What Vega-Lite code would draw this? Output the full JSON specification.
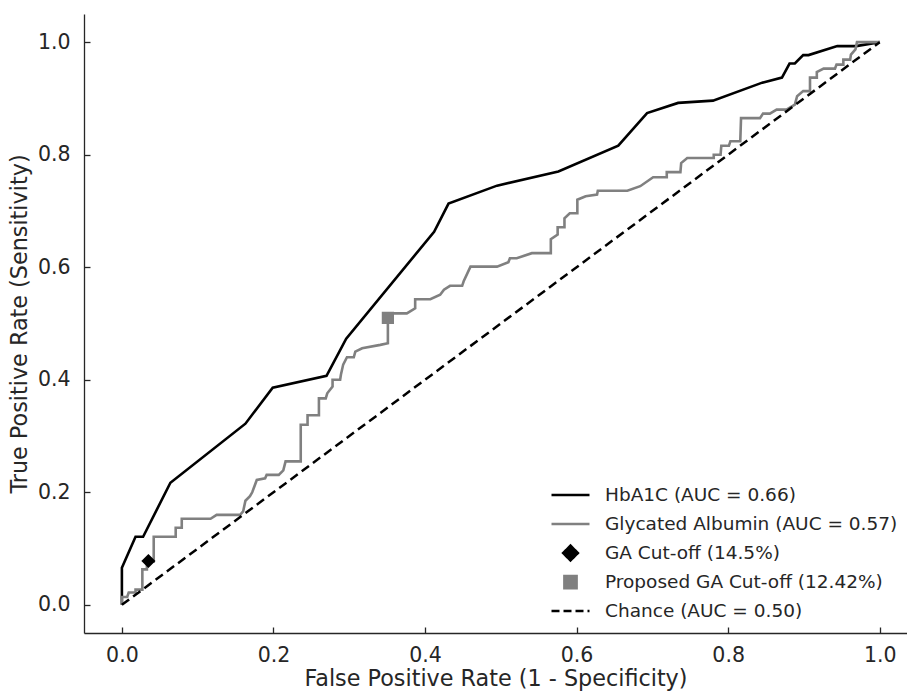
{
  "$schema": "https://vega.github.io/schema/vega-lite/v6.json",
  "width": 823,
  "height": 619,
  "autosize": {"type": "none"},
  "padding": {"left": 84, "top": 14, "right": 0, "bottom": 60},
  "background": "white",
  "config": {
    "view": {"stroke": null},
    "axis": {
      "grid": false,
      "domainColor": "#262626",
      "domainWidth": 1.3,
      "tickColor": "#262626",
      "tickWidth": 1.3,
      "tickSize": -6,
      "labelFont": "DejaVu Sans",
      "labelFontSize": 20.5,
      "labelColor": "#262626",
      "titleFont": "DejaVu Sans",
      "titleFontSize": 22.3,
      "titleFontWeight": "normal",
      "titleColor": "#262626"
    }
  },
  "data": {
    "values": [
      {"s": "HbA1C (AUC = 0.66)", "fpr": 0, "tpr": 0},
      {"s": "HbA1C (AUC = 0.66)", "fpr": 0, "tpr": 0.066},
      {"s": "HbA1C (AUC = 0.66)", "fpr": 0.018, "tpr": 0.121},
      {"s": "HbA1C (AUC = 0.66)", "fpr": 0.028, "tpr": 0.121},
      {"s": "HbA1C (AUC = 0.66)", "fpr": 0.064, "tpr": 0.217},
      {"s": "HbA1C (AUC = 0.66)", "fpr": 0.163, "tpr": 0.322},
      {"s": "HbA1C (AUC = 0.66)", "fpr": 0.199, "tpr": 0.386},
      {"s": "HbA1C (AUC = 0.66)", "fpr": 0.27, "tpr": 0.407},
      {"s": "HbA1C (AUC = 0.66)", "fpr": 0.296, "tpr": 0.473},
      {"s": "HbA1C (AUC = 0.66)", "fpr": 0.412, "tpr": 0.663},
      {"s": "HbA1C (AUC = 0.66)", "fpr": 0.431, "tpr": 0.713},
      {"s": "HbA1C (AUC = 0.66)", "fpr": 0.495, "tpr": 0.745},
      {"s": "HbA1C (AUC = 0.66)", "fpr": 0.576, "tpr": 0.77},
      {"s": "HbA1C (AUC = 0.66)", "fpr": 0.655, "tpr": 0.816},
      {"s": "HbA1C (AUC = 0.66)", "fpr": 0.693, "tpr": 0.874},
      {"s": "HbA1C (AUC = 0.66)", "fpr": 0.734, "tpr": 0.892},
      {"s": "HbA1C (AUC = 0.66)", "fpr": 0.78, "tpr": 0.896},
      {"s": "HbA1C (AUC = 0.66)", "fpr": 0.845, "tpr": 0.928},
      {"s": "HbA1C (AUC = 0.66)", "fpr": 0.871, "tpr": 0.937},
      {"s": "HbA1C (AUC = 0.66)", "fpr": 0.881, "tpr": 0.962},
      {"s": "HbA1C (AUC = 0.66)", "fpr": 0.888, "tpr": 0.962},
      {"s": "HbA1C (AUC = 0.66)", "fpr": 0.899, "tpr": 0.977},
      {"s": "HbA1C (AUC = 0.66)", "fpr": 0.906, "tpr": 0.977},
      {"s": "HbA1C (AUC = 0.66)", "fpr": 0.944, "tpr": 0.993},
      {"s": "HbA1C (AUC = 0.66)", "fpr": 0.969, "tpr": 0.993},
      {"s": "HbA1C (AUC = 0.66)", "fpr": 1, "tpr": 1},
      {"s": "Glycated Albumin (AUC = 0.57)", "fpr": 0, "tpr": 0},
      {"s": "Glycated Albumin (AUC = 0.57)", "fpr": 0, "tpr": 0.014},
      {"s": "Glycated Albumin (AUC = 0.57)", "fpr": 0.007, "tpr": 0.014},
      {"s": "Glycated Albumin (AUC = 0.57)", "fpr": 0.009, "tpr": 0.022},
      {"s": "Glycated Albumin (AUC = 0.57)", "fpr": 0.018, "tpr": 0.022},
      {"s": "Glycated Albumin (AUC = 0.57)", "fpr": 0.018, "tpr": 0.027},
      {"s": "Glycated Albumin (AUC = 0.57)", "fpr": 0.027, "tpr": 0.027},
      {"s": "Glycated Albumin (AUC = 0.57)", "fpr": 0.027, "tpr": 0.063},
      {"s": "Glycated Albumin (AUC = 0.57)", "fpr": 0.033, "tpr": 0.063},
      {"s": "Glycated Albumin (AUC = 0.57)", "fpr": 0.033, "tpr": 0.077},
      {"s": "Glycated Albumin (AUC = 0.57)", "fpr": 0.042, "tpr": 0.077},
      {"s": "Glycated Albumin (AUC = 0.57)", "fpr": 0.042, "tpr": 0.121},
      {"s": "Glycated Albumin (AUC = 0.57)", "fpr": 0.071, "tpr": 0.121},
      {"s": "Glycated Albumin (AUC = 0.57)", "fpr": 0.071, "tpr": 0.137},
      {"s": "Glycated Albumin (AUC = 0.57)", "fpr": 0.079, "tpr": 0.137},
      {"s": "Glycated Albumin (AUC = 0.57)", "fpr": 0.079, "tpr": 0.153},
      {"s": "Glycated Albumin (AUC = 0.57)", "fpr": 0.117, "tpr": 0.153},
      {"s": "Glycated Albumin (AUC = 0.57)", "fpr": 0.125, "tpr": 0.16},
      {"s": "Glycated Albumin (AUC = 0.57)", "fpr": 0.156, "tpr": 0.16},
      {"s": "Glycated Albumin (AUC = 0.57)", "fpr": 0.16, "tpr": 0.166},
      {"s": "Glycated Albumin (AUC = 0.57)", "fpr": 0.163, "tpr": 0.185},
      {"s": "Glycated Albumin (AUC = 0.57)", "fpr": 0.169, "tpr": 0.193},
      {"s": "Glycated Albumin (AUC = 0.57)", "fpr": 0.172, "tpr": 0.2},
      {"s": "Glycated Albumin (AUC = 0.57)", "fpr": 0.178, "tpr": 0.222},
      {"s": "Glycated Albumin (AUC = 0.57)", "fpr": 0.189, "tpr": 0.225},
      {"s": "Glycated Albumin (AUC = 0.57)", "fpr": 0.191, "tpr": 0.231},
      {"s": "Glycated Albumin (AUC = 0.57)", "fpr": 0.207, "tpr": 0.231},
      {"s": "Glycated Albumin (AUC = 0.57)", "fpr": 0.213, "tpr": 0.239},
      {"s": "Glycated Albumin (AUC = 0.57)", "fpr": 0.216, "tpr": 0.255},
      {"s": "Glycated Albumin (AUC = 0.57)", "fpr": 0.236, "tpr": 0.255},
      {"s": "Glycated Albumin (AUC = 0.57)", "fpr": 0.236, "tpr": 0.32},
      {"s": "Glycated Albumin (AUC = 0.57)", "fpr": 0.245, "tpr": 0.32},
      {"s": "Glycated Albumin (AUC = 0.57)", "fpr": 0.245, "tpr": 0.337},
      {"s": "Glycated Albumin (AUC = 0.57)", "fpr": 0.26, "tpr": 0.337},
      {"s": "Glycated Albumin (AUC = 0.57)", "fpr": 0.26, "tpr": 0.367},
      {"s": "Glycated Albumin (AUC = 0.57)", "fpr": 0.269, "tpr": 0.367},
      {"s": "Glycated Albumin (AUC = 0.57)", "fpr": 0.271, "tpr": 0.376},
      {"s": "Glycated Albumin (AUC = 0.57)", "fpr": 0.278, "tpr": 0.388},
      {"s": "Glycated Albumin (AUC = 0.57)", "fpr": 0.278, "tpr": 0.4},
      {"s": "Glycated Albumin (AUC = 0.57)", "fpr": 0.288, "tpr": 0.4},
      {"s": "Glycated Albumin (AUC = 0.57)", "fpr": 0.289, "tpr": 0.409},
      {"s": "Glycated Albumin (AUC = 0.57)", "fpr": 0.292, "tpr": 0.427},
      {"s": "Glycated Albumin (AUC = 0.57)", "fpr": 0.297, "tpr": 0.44},
      {"s": "Glycated Albumin (AUC = 0.57)", "fpr": 0.306, "tpr": 0.44},
      {"s": "Glycated Albumin (AUC = 0.57)", "fpr": 0.308, "tpr": 0.45},
      {"s": "Glycated Albumin (AUC = 0.57)", "fpr": 0.317, "tpr": 0.456},
      {"s": "Glycated Albumin (AUC = 0.57)", "fpr": 0.341, "tpr": 0.462},
      {"s": "Glycated Albumin (AUC = 0.57)", "fpr": 0.351, "tpr": 0.465},
      {"s": "Glycated Albumin (AUC = 0.57)", "fpr": 0.351, "tpr": 0.518},
      {"s": "Glycated Albumin (AUC = 0.57)", "fpr": 0.376, "tpr": 0.518},
      {"s": "Glycated Albumin (AUC = 0.57)", "fpr": 0.387, "tpr": 0.527},
      {"s": "Glycated Albumin (AUC = 0.57)", "fpr": 0.387, "tpr": 0.543},
      {"s": "Glycated Albumin (AUC = 0.57)", "fpr": 0.407, "tpr": 0.543},
      {"s": "Glycated Albumin (AUC = 0.57)", "fpr": 0.42, "tpr": 0.551},
      {"s": "Glycated Albumin (AUC = 0.57)", "fpr": 0.425, "tpr": 0.56},
      {"s": "Glycated Albumin (AUC = 0.57)", "fpr": 0.433, "tpr": 0.567},
      {"s": "Glycated Albumin (AUC = 0.57)", "fpr": 0.449, "tpr": 0.567},
      {"s": "Glycated Albumin (AUC = 0.57)", "fpr": 0.451, "tpr": 0.575},
      {"s": "Glycated Albumin (AUC = 0.57)", "fpr": 0.46, "tpr": 0.601},
      {"s": "Glycated Albumin (AUC = 0.57)", "fpr": 0.495, "tpr": 0.601},
      {"s": "Glycated Albumin (AUC = 0.57)", "fpr": 0.51, "tpr": 0.609},
      {"s": "Glycated Albumin (AUC = 0.57)", "fpr": 0.512, "tpr": 0.616},
      {"s": "Glycated Albumin (AUC = 0.57)", "fpr": 0.521, "tpr": 0.616},
      {"s": "Glycated Albumin (AUC = 0.57)", "fpr": 0.541, "tpr": 0.625},
      {"s": "Glycated Albumin (AUC = 0.57)", "fpr": 0.566, "tpr": 0.625},
      {"s": "Glycated Albumin (AUC = 0.57)", "fpr": 0.566, "tpr": 0.65},
      {"s": "Glycated Albumin (AUC = 0.57)", "fpr": 0.575, "tpr": 0.658},
      {"s": "Glycated Albumin (AUC = 0.57)", "fpr": 0.575, "tpr": 0.671},
      {"s": "Glycated Albumin (AUC = 0.57)", "fpr": 0.584, "tpr": 0.671},
      {"s": "Glycated Albumin (AUC = 0.57)", "fpr": 0.584, "tpr": 0.687},
      {"s": "Glycated Albumin (AUC = 0.57)", "fpr": 0.591, "tpr": 0.696},
      {"s": "Glycated Albumin (AUC = 0.57)", "fpr": 0.601, "tpr": 0.696},
      {"s": "Glycated Albumin (AUC = 0.57)", "fpr": 0.601, "tpr": 0.72},
      {"s": "Glycated Albumin (AUC = 0.57)", "fpr": 0.612, "tpr": 0.726},
      {"s": "Glycated Albumin (AUC = 0.57)", "fpr": 0.627, "tpr": 0.729},
      {"s": "Glycated Albumin (AUC = 0.57)", "fpr": 0.628, "tpr": 0.736},
      {"s": "Glycated Albumin (AUC = 0.57)", "fpr": 0.667, "tpr": 0.736},
      {"s": "Glycated Albumin (AUC = 0.57)", "fpr": 0.684, "tpr": 0.744},
      {"s": "Glycated Albumin (AUC = 0.57)", "fpr": 0.701, "tpr": 0.76},
      {"s": "Glycated Albumin (AUC = 0.57)", "fpr": 0.719, "tpr": 0.76},
      {"s": "Glycated Albumin (AUC = 0.57)", "fpr": 0.719, "tpr": 0.769},
      {"s": "Glycated Albumin (AUC = 0.57)", "fpr": 0.737, "tpr": 0.769},
      {"s": "Glycated Albumin (AUC = 0.57)", "fpr": 0.738, "tpr": 0.785},
      {"s": "Glycated Albumin (AUC = 0.57)", "fpr": 0.746, "tpr": 0.794},
      {"s": "Glycated Albumin (AUC = 0.57)", "fpr": 0.781, "tpr": 0.794},
      {"s": "Glycated Albumin (AUC = 0.57)", "fpr": 0.781, "tpr": 0.8},
      {"s": "Glycated Albumin (AUC = 0.57)", "fpr": 0.79, "tpr": 0.8},
      {"s": "Glycated Albumin (AUC = 0.57)", "fpr": 0.791, "tpr": 0.816},
      {"s": "Glycated Albumin (AUC = 0.57)", "fpr": 0.801, "tpr": 0.816},
      {"s": "Glycated Albumin (AUC = 0.57)", "fpr": 0.803, "tpr": 0.824},
      {"s": "Glycated Albumin (AUC = 0.57)", "fpr": 0.816, "tpr": 0.824},
      {"s": "Glycated Albumin (AUC = 0.57)", "fpr": 0.817, "tpr": 0.865},
      {"s": "Glycated Albumin (AUC = 0.57)", "fpr": 0.842, "tpr": 0.865},
      {"s": "Glycated Albumin (AUC = 0.57)", "fpr": 0.846, "tpr": 0.873},
      {"s": "Glycated Albumin (AUC = 0.57)", "fpr": 0.855, "tpr": 0.873},
      {"s": "Glycated Albumin (AUC = 0.57)", "fpr": 0.864, "tpr": 0.88},
      {"s": "Glycated Albumin (AUC = 0.57)", "fpr": 0.877, "tpr": 0.88},
      {"s": "Glycated Albumin (AUC = 0.57)", "fpr": 0.888, "tpr": 0.889},
      {"s": "Glycated Albumin (AUC = 0.57)", "fpr": 0.891, "tpr": 0.904},
      {"s": "Glycated Albumin (AUC = 0.57)", "fpr": 0.899, "tpr": 0.913},
      {"s": "Glycated Albumin (AUC = 0.57)", "fpr": 0.908, "tpr": 0.913},
      {"s": "Glycated Albumin (AUC = 0.57)", "fpr": 0.908, "tpr": 0.937},
      {"s": "Glycated Albumin (AUC = 0.57)", "fpr": 0.917, "tpr": 0.937},
      {"s": "Glycated Albumin (AUC = 0.57)", "fpr": 0.917, "tpr": 0.947},
      {"s": "Glycated Albumin (AUC = 0.57)", "fpr": 0.926, "tpr": 0.953},
      {"s": "Glycated Albumin (AUC = 0.57)", "fpr": 0.941, "tpr": 0.953},
      {"s": "Glycated Albumin (AUC = 0.57)", "fpr": 0.943, "tpr": 0.96},
      {"s": "Glycated Albumin (AUC = 0.57)", "fpr": 0.952, "tpr": 0.96},
      {"s": "Glycated Albumin (AUC = 0.57)", "fpr": 0.952, "tpr": 0.969},
      {"s": "Glycated Albumin (AUC = 0.57)", "fpr": 0.961, "tpr": 0.969},
      {"s": "Glycated Albumin (AUC = 0.57)", "fpr": 0.962, "tpr": 0.978},
      {"s": "Glycated Albumin (AUC = 0.57)", "fpr": 0.968, "tpr": 0.987},
      {"s": "Glycated Albumin (AUC = 0.57)", "fpr": 0.97, "tpr": 1},
      {"s": "Glycated Albumin (AUC = 0.57)", "fpr": 1, "tpr": 1},
      {"s": "GA Cut-off (14.5%)", "fpr": 0.035, "tpr": 0.078},
      {"s": "Proposed GA Cut-off (12.42%)", "fpr": 0.351, "tpr": 0.51},
      {"s": "Chance (AUC = 0.50)", "fpr": 0, "tpr": 0},
      {"s": "Chance (AUC = 0.50)", "fpr": 1, "tpr": 1}
    ]
  },
  "encoding": {
    "x": {
      "field": "fpr",
      "type": "quantitative",
      "scale": {"domain": [-0.05, 1.036], "nice": false, "zero": false},
      "axis": {
        "values": [0, 0.2, 0.4, 0.6, 0.8, 1.0],
        "format": ".1f",
        "labelPadding": 18,
        "titlePadding": 2,
        "title": "False Positive Rate (1 - Specificity)"
      }
    },
    "y": {
      "field": "tpr",
      "type": "quantitative",
      "scale": {"domain": [-0.05, 1.05], "nice": false, "zero": false},
      "axis": {
        "values": [0, 0.2, 0.4, 0.6, 0.8, 1.0],
        "format": ".1f",
        "labelPadding": 20,
        "titlePadding": 6,
        "title": "True Positive Rate (Sensitivity)"
      }
    },
    "color": {
      "field": "s",
      "type": "nominal",
      "scale": {
        "domain": ["HbA1C (AUC = 0.66)", "Glycated Albumin (AUC = 0.57)", "GA Cut-off (14.5%)", "Proposed GA Cut-off (12.42%)", "Chance (AUC = 0.50)"],
        "range": ["#000000", "#808080", "#000000", "#808080", "#000000"]
      },
      "legend": {
        "title": null,
        "orient": "none",
        "legendX": 466,
        "legendY": 467,
        "labelFont": "DejaVu Sans",
        "labelFontSize": 18.5,
        "labelColor": "#262626",
        "labelLimit": 0,
        "labelOffset": 14,
        "symbolSize": 400,
        "symbolStrokeWidth": 2.5,
        "symbolType": "stroke",
        "clipHeight": 28.1,
        "rowPadding": 0,
        "encode": {
          "symbols": {
            "update": {
              "shape": {"signal": "datum.label == 'GA Cut-off (14.5%)' ? 'diamond' : datum.label == 'Proposed GA Cut-off (12.42%)' ? 'square' : 'stroke'"},
              "size": {"signal": "datum.label == 'GA Cut-off (14.5%)' ? 220 : datum.label == 'Proposed GA Cut-off (12.42%)' ? 150 : 1444"},
              "fill": {"signal": "datum.label == 'GA Cut-off (14.5%)' ? '#000000' : datum.label == 'Proposed GA Cut-off (12.42%)' ? '#808080' : 'transparent'"},
              "stroke": {"signal": "(datum.label == 'GA Cut-off (14.5%)' || datum.label == 'Proposed GA Cut-off (12.42%)') ? 'transparent' : datum.label == 'Glycated Albumin (AUC = 0.57)' ? '#808080' : '#000000'"},
              "strokeDash": {"signal": "datum.label == 'Chance (AUC = 0.50)' ? [8, 4] : [1, 0]"},
              "strokeWidth": {"value": 2.5},
              "opacity": {"value": 1}
            }
          }
        }
      }
    }
  },
  "layer": [
    {
      "transform": [{"filter": "datum.s == 'HbA1C (AUC = 0.66)' || datum.s == 'Glycated Albumin (AUC = 0.57)'"}],
      "mark": {"type": "line", "strokeWidth": 2.6},
      "encoding": {
        "order": [{"field": "fpr", "type": "quantitative"}, {"field": "tpr", "type": "quantitative"}]
      }
    },
    {
      "transform": [{"filter": "datum.s == 'Chance (AUC = 0.50)'"}],
      "mark": {"type": "line", "strokeWidth": 2.5, "strokeDash": [9, 5]},
      "encoding": {}
    },
    {
      "transform": [{"filter": "datum.s == 'GA Cut-off (14.5%)'"}],
      "mark": {"type": "point", "shape": "diamond", "filled": true, "size": 200, "opacity": 1},
      "encoding": {}
    },
    {
      "transform": [{"filter": "datum.s == 'Proposed GA Cut-off (12.42%)'"}],
      "mark": {"type": "point", "shape": "square", "filled": true, "size": 150, "opacity": 1},
      "encoding": {}
    }
  ]
}
